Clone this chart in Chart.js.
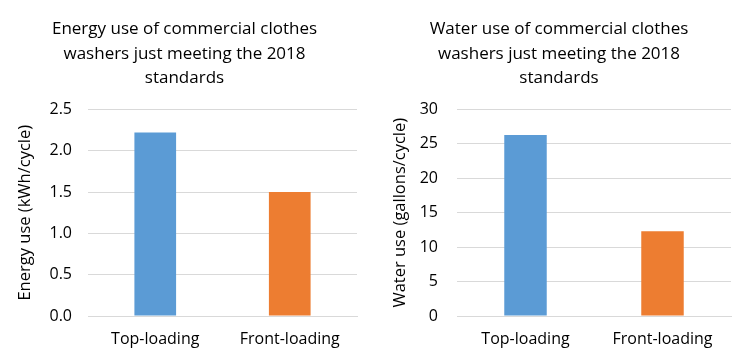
<!DOCTYPE html>
<html>
<head>
<meta charset="utf-8">
<script src="https://cdn.jsdelivr.net/npm/chart.js@4.4.0/dist/chart.umd.min.js"></script>
<style>
  body { margin: 0; background: #fff; }
  .wrap { position: absolute; top: 0; height: 361px; }
</style>
</head>
<body>
<div class="wrap" style="left:0;width:372px"><canvas id="energyChart"></canvas></div>
<div class="wrap" style="left:375px;width:374px"><canvas id="waterChart"></canvas></div>
<script>
var categories = ["Top-loading", "Front-loading"];
var energyUse = [2.22, 1.50];
var waterUse = [26.3, 12.3];
var barColors = ["#5B9BD5", "#ED7D31"];

var energyTitle = ["Energy use of commercial clothes", "washers just meeting the 2018", "standards"];
var waterTitle = ["Water use of commercial clothes", "washers just meeting the 2018", "standards"];

Chart.defaults.font.family = "'Open Sans', 'Noto Sans', sans-serif";
Chart.defaults.color = "#000";

function makeChart(id, values, title, yLabel, yMax, yStep, decimals, pad, yWidth, tickPad) {
    return new Chart(document.getElementById(id), {
        type: 'bar',
        data: {
            labels: categories,
            datasets: [
                {
                    backgroundColor: barColors,
                    data: values,
                    barPercentage: 0.62,
                    categoryPercentage: 0.5
                }
            ]
        },
        options: {
            responsive: true,
            maintainAspectRatio: false,
            animation: false,
            layout: { padding: pad },
            plugins: {
                legend: { display: false },
                tooltip: { enabled: false },
                title: {
                    display: true,
                    text: title,
                    color: '#000',
                    font: { size: 17, weight: 'normal', lineHeight: 1.44 },
                    padding: { top: 2, bottom: 19 }
                }
            },
            scales: {
                x: {
                    grid: { display: false, drawTicks: false },
                    border: { display: true, color: '#d9d9d9', width: 1 },
                    ticks: { font: { size: 16 }, padding: 14 },
                    afterFit: function (scale) { scale.height = 45; }
                },
                y: {
                    min: 0,
                    max: yMax,
                    grid: { color: '#d9d9d9', drawTicks: false },
                    border: { display: false },
                    ticks: {
                        stepSize: yStep,
                        font: { size: 16 },
                        padding: tickPad,
                        callback: function (v) { return v.toFixed(decimals); }
                    },
                    title: {
                        display: true,
                        text: yLabel,
                        font: { size: 16.5 },
                        padding: { top: 3, bottom: 0 }
                    },
                    afterFit: function (scale) { scale.width = yWidth; }
                }
            }
        }
    });
}

makeChart("energyChart", energyUse, energyTitle, "Energy use (kWh/cycle)", 2.5, 0.5, 1,
    { left: 12, right: 15, top: 15, bottom: 0 }, 76, 16);
makeChart("waterChart", waterUse, waterTitle, "Water use (gallons/cycle)", 30, 5, 0,
    { left: 12, right: 18, top: 15, bottom: 0 }, 70, 19);
</script>
</body>
</html>
